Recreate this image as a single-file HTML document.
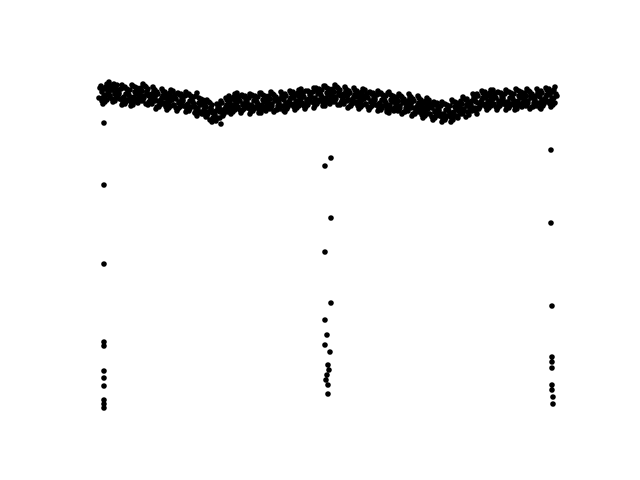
<!DOCTYPE html>
<html><head><meta charset="utf-8"><style>
html,body{margin:0;padding:0;background:#fff;}
svg{display:block;}
</style></head><body>
<svg id="chart" width="640" height="480" viewBox="0 0 640 480" xmlns="http://www.w3.org/2000/svg">
<rect x="0" y="0" width="640" height="480" fill="#fff"/>
<g id="band"></g>
<g id="outliers"></g>
</svg>
<script>
// Band center values (value = height above baseline), one per x step
const bandX = [0,8,16,24,32,40,48,56,64,72,80,88,96,104,112,120,128,136,144,152,160,168,176,184,192,200,208,216,224,232,240,248,256,264,272,280,288,296,304,312,320,328,336,344,352,360,368,376,384,392,400,408,416,424,432,440,448];
const bandY = [333,335,332,331,332,333,330,328,327,326,325,324,321,317,313,319,323,324,323,324,324,325,325,326,327,328,329,331,331,332,330,329,328,327,326,325,324,323,323,321,319,317,315,315,317,320,323,326,327,327,327,327,328,328,328,329,330];
// Scatter pattern around band center [dx, dy]
const jitterDX = [-3,0,3,-2,2,-5,1,4,-1,3,-4,0,5,-2,2,-1];
const jitterDY = [8,5,10,2,-1,-4,-8,3,-10,-6,6,-2,1,-7,7,-4];

// Outlier columns
const outX = [0,0,0,0,0,0,0,0,0,0,0,
  227,221,227,221,227,221,223,221,226,224,225,223,222,224,224,
  447,447,448,448,448,448,448,448,449,449];
const outY = [304,242,163,85,81,56,49,41,27,23,19,
  269,261,209,175,124,107,92,82,75,62,57,52,47,42,33,
  277,204,121,70,65,59,42,37,30,23];

const xMin = 0, xMax = 448, pxL = 104, pxR = 552;
const yMin = 0, yMax = 369, pyB = 427, pyT = 58;
function sx(v){ return pxL + (v - xMin) / (xMax - xMin) * (pxR - pxL); }
function sy(v){ return pyB - (v - yMin) / (yMax - yMin) * (pyB - pyT); }
const NS = "http://www.w3.org/2000/svg";
const band = document.getElementById('band');
for (let i = 0; i < bandX.length; i++) {
  for (let j = 0; j < jitterDX.length; j++) {
    const k = (j + i * 5) % jitterDX.length;
    const m = (j + i * 7) % jitterDY.length;
    const c = document.createElementNS(NS, 'circle');
    
    
    c.setAttribute('cx', sx(bandX[i] + jitterDX[k]));
    c.setAttribute('cy', sy(bandY[i] + jitterDY[m]));
    c.setAttribute('r', 2.8);
    c.setAttribute('fill', '#000');
    band.appendChild(c);
  }
}
const outs = document.getElementById('outliers');
for (let i = 0; i < outX.length; i++) {
  const c = document.createElementNS(NS, 'circle');
  
  
  c.setAttribute('cx', sx(outX[i]));
  c.setAttribute('cy', sy(outY[i]));
  c.setAttribute('r', 2.8);
  c.setAttribute('fill', '#000');
  outs.appendChild(c);
}
</script>
</body></html>
